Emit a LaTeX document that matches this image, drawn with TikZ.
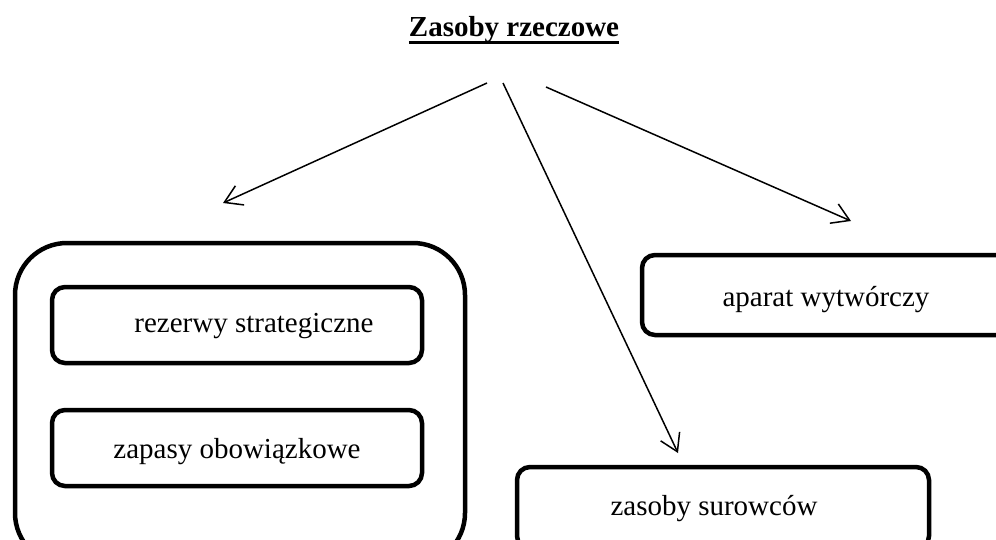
\documentclass[tikz,border=0pt]{standalone}
\usepackage{fontspec}
\setmainfont{Liberation Serif}
\usetikzlibrary{arrows.meta}

\newcommand{\titleline}[1]{\setbox0\hbox{#1}\rlap{\rule[-8pt]{\wd0}{3.5pt}}\box0}

\begin{document}
\begin{tikzpicture}[x=1pt, y=-1pt, font=\fontsize{29}{35}\selectfont,
    box/.style={draw, line width=4.5pt, rounded corners=13pt, inner sep=0pt,
        text height=20pt, text depth=6pt},
    link/.style={line width=1.5pt, -{Straight Barb[length=17pt, width=21pt, line width=1.5pt]}}]
    \useasboundingbox (0,0) rectangle (996,539);
    \clip (0,0) rectangle (996,539);

    % Title
    \node[anchor=base] (title) at (514, 36) {\titleline{\bfseries Zasoby rzeczowe}};

    % Group of stocks
    \node[box, rounded corners=52pt, minimum width=450pt, minimum height=322pt] (group) at (240, 404) {};
    \node[box, minimum width=370pt, minimum height=76pt] (reserve) at (237, 325) {\hspace*{34pt}rezerwy strategiczne};
    \node[box, minimum width=370pt, minimum height=76pt] (stock) at (237, 448) {\raisebox{-3pt}{zapasy obowiązkowe}};

    % Other resources
    \node[box, minimum width=368pt, minimum height=80pt] (plant) at (826, 295) {\raisebox{-4pt}{aparat wytwórczy}};
    \node[box, minimum width=412pt, minimum height=82pt] (raw) at (723, 508) {\hspace*{-18pt}zasoby surowców};

    % Arrows
    \coordinate (s1) at (487, 83);
    \coordinate (s2) at (503, 83);
    \coordinate (s3) at (546, 87);
    \coordinate (e1) at (223, 203);
    \coordinate (e2) at (678, 453);
    \coordinate (e3) at (851, 221);
    \draw[link] (s1) -- (e1);
    \draw[link] (s2) -- (e2);
    \draw[link] (s3) -- (e3);
\end{tikzpicture}
\end{document}
